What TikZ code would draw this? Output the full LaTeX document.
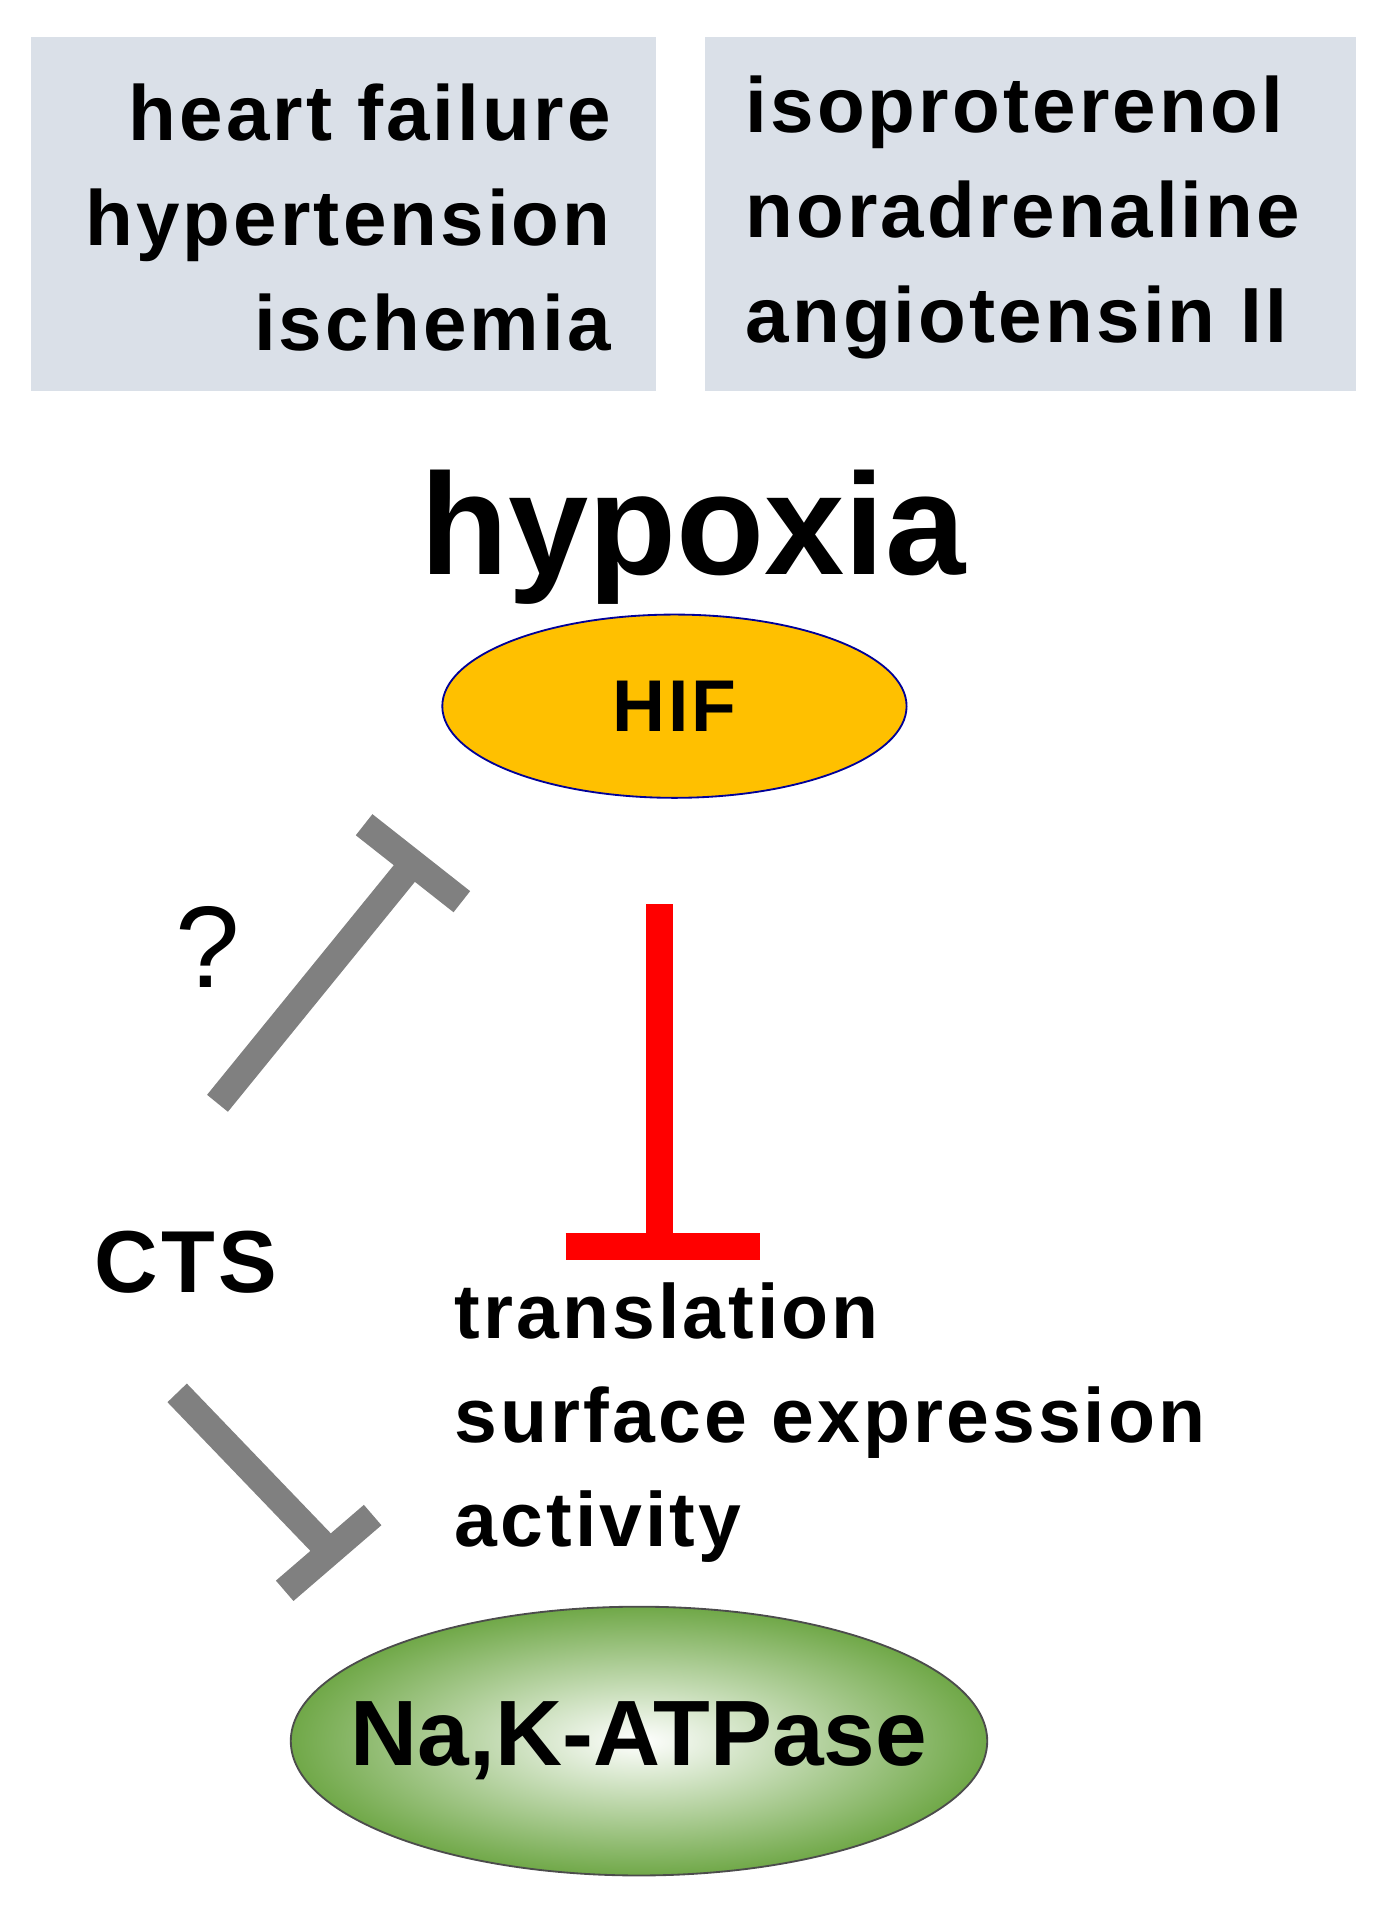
\documentclass[tikz,border=0pt]{standalone}
\usepackage{fontspec}
\setmainfont{Liberation Sans}[LetterSpace=4]
\newfontfamily\tightfont{Liberation Sans}
\usetikzlibrary{shapes.geometric}
\definecolor{boxfill}{RGB}{218,224,232}
\definecolor{hif}{RGB}{255,192,0}
\definecolor{tgray}{RGB}{128,128,128}
\definecolor{gdark}{RGB}{112,168,72}
\begin{document}
\begin{tikzpicture}[x=1pt,y=-1pt,
  box/.style={fill=boxfill,draw=none},
  txt/.style={font=\fontsize{64}{86}\selectfont\bfseries,inner sep=0pt},
  inh/.style={line width=22pt,draw=tgray}]
\useasboundingbox (0,0) rectangle (1140,1578);
\fill[box] (25,30) rectangle (537,320);
\fill[box] (577,30) rectangle (1110,320);
\node[txt,align=right,anchor=east] (t1) at (500,178) {heart failure\\hypertension\\ischemia};
\node[txt,align=left,anchor=west] (t2) at (610,178) {isoproterenol\\noradrenaline\\angiotensin II};
\node[inner sep=0pt,font=\tightfont\fontsize{118}{120}\selectfont\bfseries] (hyp) at (567,440) {hypoxia};
\fill[hif,draw=blue!60!black,line width=1.5pt] (552,578) ellipse [x radius=190, y radius=75];
\node[inner sep=0pt,font=\fontsize{60}{60}\selectfont\bfseries] (hif) at (552,578) {HIF};
\coordinate (a1) at (178,903); \coordinate (a2) at (339,705);
\coordinate (b1) at (298,675); \coordinate (b2) at (378,738);
\draw[inh] (a1) -- (a2); \draw[inh] (b1) -- (b2);
\node[font=\fontsize{95}{95}\selectfont] (q) at (170,775) {?};
\coordinate (r1) at (540,740); \coordinate (r2) at (540,1020);
\coordinate (r3) at (463,1020); \coordinate (r4) at (622,1020);
\draw[line width=22pt,red] (r1) -- (r2); \draw[line width=22pt,red] (r3) -- (r4);
\node[inner sep=0pt,font=\fontsize{72}{74}\selectfont\bfseries] (cts) at (152,1033) {CTS};
\coordinate (c1) at (145,1140); \coordinate (c2) at (268,1268);
\coordinate (d1) at (233,1302); \coordinate (d2) at (305,1240);
\draw[inh] (c1) -- (c2); \draw[inh] (d1) -- (d2);
\node[inner sep=0pt,align=left,anchor=north west,font=\fontsize{63}{85}\selectfont\bfseries] (eff) at (372,1050) {translation\\surface expression\\activity};
\draw[black!70,line width=1.5pt,inner color=white,outer color=gdark] (523,1425) ellipse [x radius=285, y radius=110];
\node[inner sep=0pt,font=\tightfont\fontsize{76}{76}\selectfont\bfseries] (nka) at (523,1425) {Na,K-ATPase};
\end{tikzpicture}
\end{document}
